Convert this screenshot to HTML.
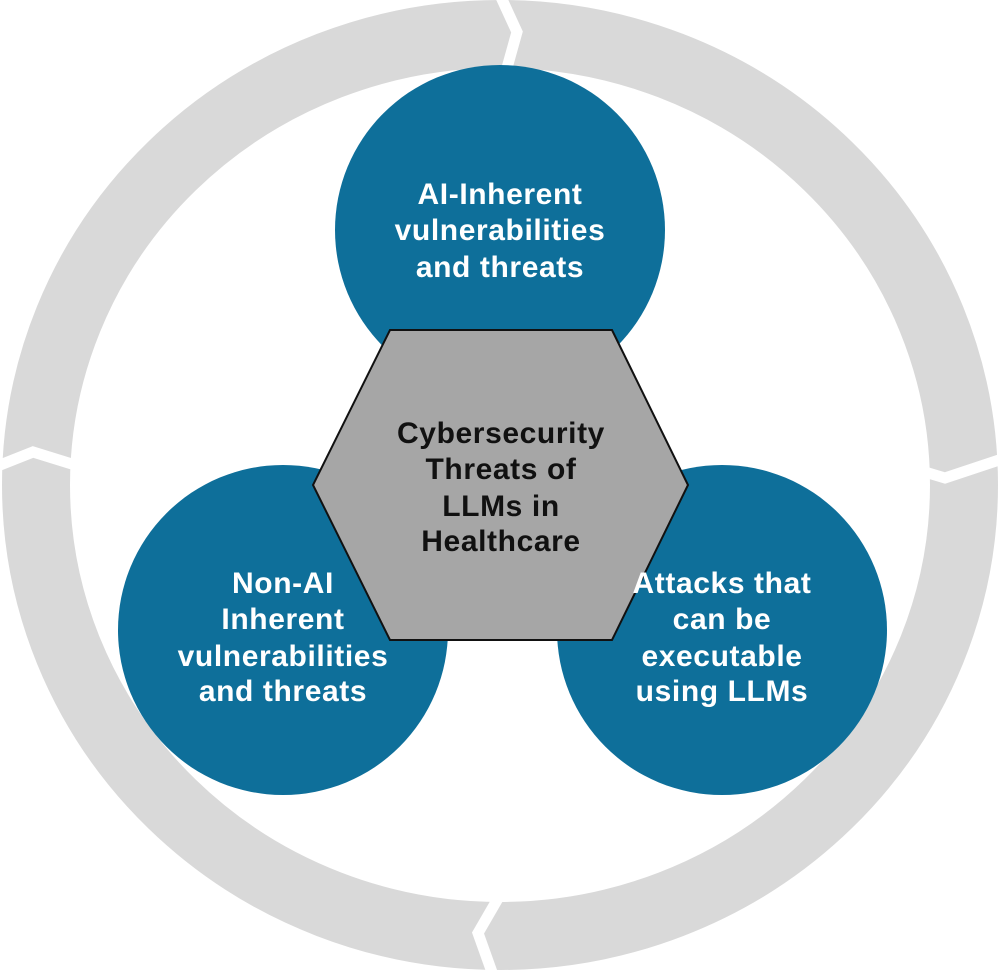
<!DOCTYPE html>
<html><head><meta charset="utf-8"><style>
html,body{margin:0;padding:0;background:#fff;}
svg{display:block;}
</style></head><body>
<svg width="1000" height="970" viewBox="0 0 1000 970" xmlns="http://www.w3.org/2000/svg">
<ellipse cx="500" cy="485" rx="464" ry="451" fill="none" stroke="#d9d9d9" stroke-width="68"/>
<g stroke="#fff" stroke-width="11" fill="none" stroke-linejoin="miter">
<polyline points="500,-5 517,32 505,75"/>
<polyline points="885,460 945,478 1005,458"/>
<polyline points="500,895 478,933 493,975"/>
<polyline points="-5,467 33,452 75,465"/>
</g>
<g fill="#0e6f9a">
<circle cx="500" cy="230" r="165"/>
<circle cx="283" cy="630" r="165"/>
<circle cx="722" cy="630" r="165"/>
</g>
<polygon points="390,330 612,330 688,485 612,640 390,640 313,485" fill="#a6a6a6" stroke="#111" stroke-width="2"/>
<g fill="#111" font-family="Liberation Sans, Arial, sans-serif" font-weight="bold" font-size="30" letter-spacing="0.6" text-anchor="middle">
<text x="501" y="443">Cybersecurity</text>
<text x="501" y="479">Threats of</text>
<text x="501" y="516">LLMs in</text>
<text x="501" y="551">Healthcare</text>
</g>
<g fill="#fff" font-family="Liberation Sans, Arial, sans-serif" font-weight="bold" font-size="30" letter-spacing="0.6" text-anchor="middle">
<text x="500" y="204">AI-Inherent</text>
<text x="500" y="240">vulnerabilities</text>
<text x="500" y="277">and threats</text>
<text x="283" y="593">Non-AI</text>
<text x="283" y="629">Inherent</text>
<text x="283" y="666">vulnerabilities</text>
<text x="283" y="701">and threats</text>
<text x="722" y="593">Attacks that</text>
<text x="722" y="629">can be</text>
<text x="722" y="666">executable</text>
<text x="722" y="701">using LLMs</text>
</g>
</svg>
</body></html>
